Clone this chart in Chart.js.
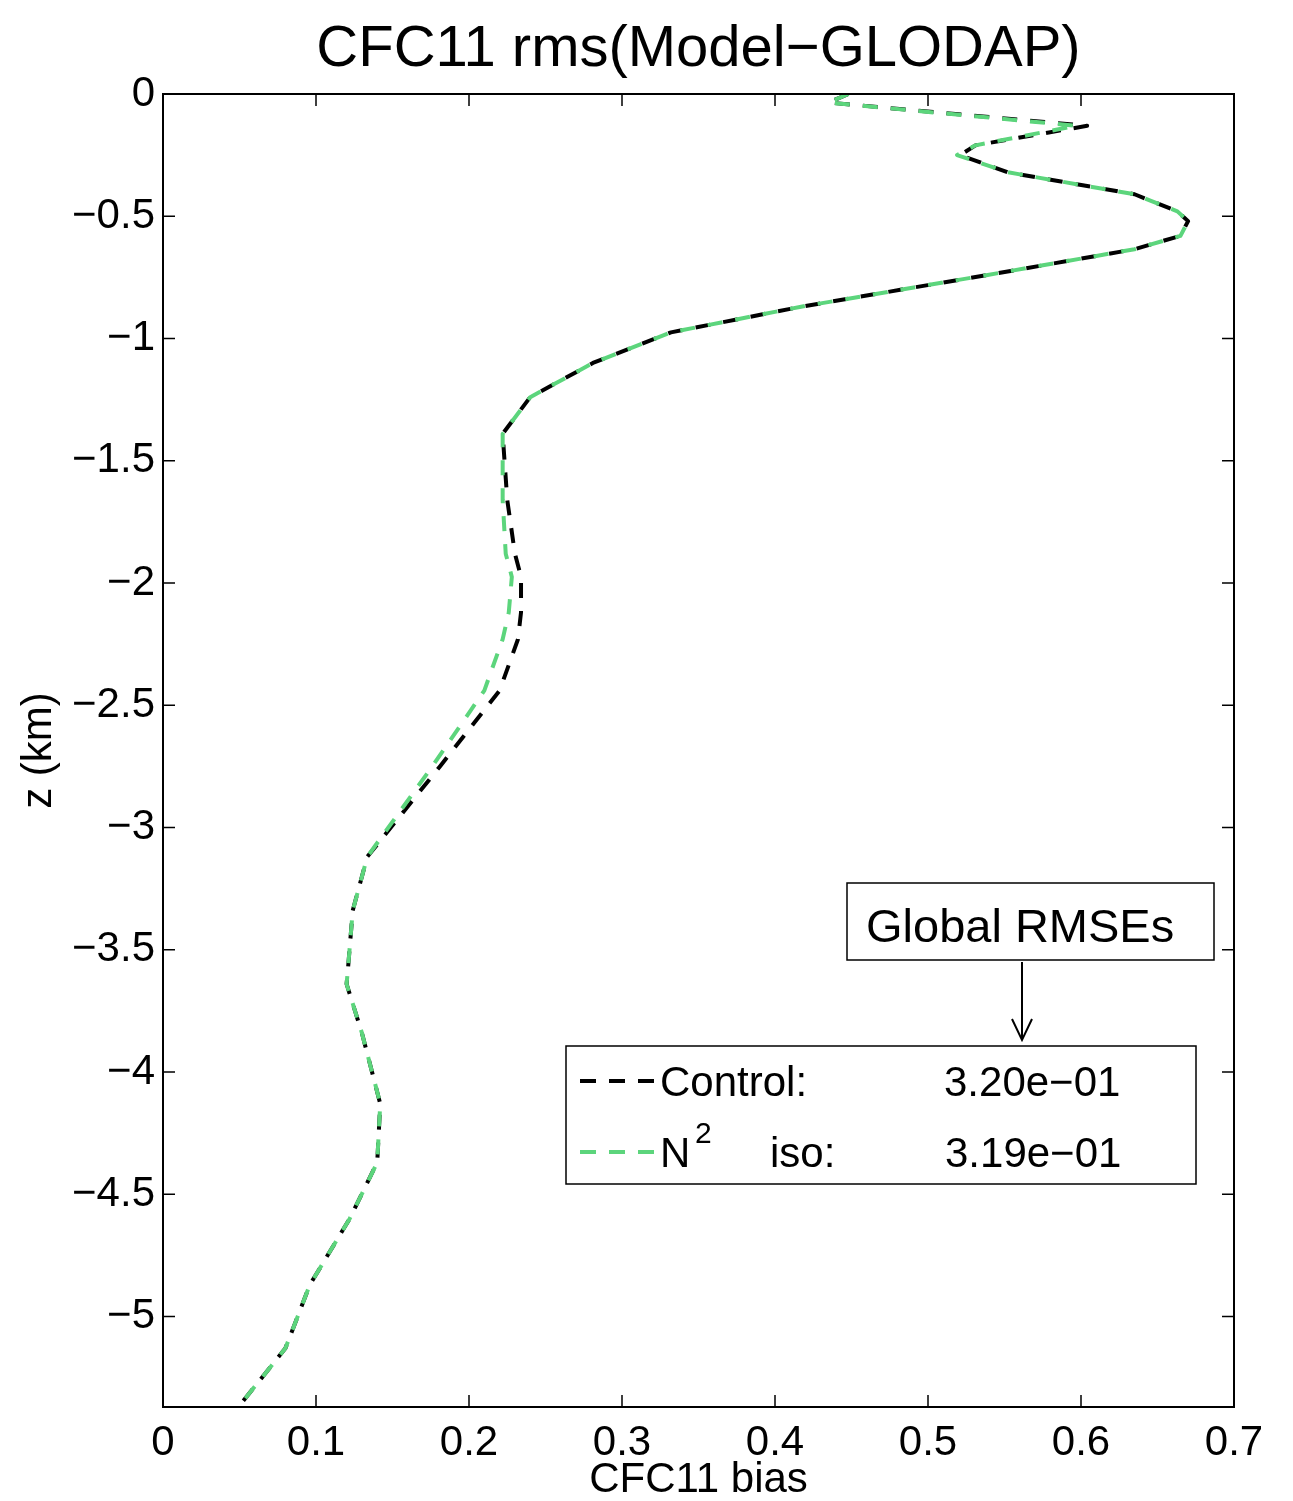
<!DOCTYPE html>
<html>
<head>
<meta charset="utf-8">
<title>CFC11 rms(Model−GLODAP)</title>
<script src="https://cdn.jsdelivr.net/npm/chart.js@4.4.0/dist/chart.umd.min.js"></script>
<style>
  body { margin: 0; background: #fff; }
  canvas { display: block; }
</style>
</head>
<body>
<canvas id="cfcChart" width="1293" height="1501"></canvas>
<script>
// depth of each model level (km, negative down)
const depthKm = [0, -0.035, -0.13, -0.21, -0.25, -0.32, -0.41, -0.48, -0.52, -0.58,
  -0.635, -0.74, -0.87, -0.975, -1.10, -1.24, -1.39, -1.66, -1.88, -1.975,
  -2.12, -2.23, -2.44, -2.75, -3.12, -3.34, -3.57, -3.64, -3.84, -4.13,
  -4.37, -4.60, -4.87, -5.13, -5.38];

// rms bias per level
const controlBias = [0.448, 0.435, 0.604, 0.531, 0.521, 0.552, 0.635, 0.663, 0.670, 0.665,
  0.635, 0.539, 0.417, 0.332, 0.281, 0.240, 0.222, 0.225, 0.230, 0.234,
  0.234, 0.232, 0.220, 0.181, 0.1335, 0.124, 0.121, 0.120, 0.130, 0.142,
  0.140, 0.122, 0.096, 0.080, 0.048];
const n2isoBias = [0.448, 0.435, 0.597, 0.531, 0.519, 0.552, 0.635, 0.663, 0.670, 0.665,
  0.635, 0.539, 0.417, 0.332, 0.281, 0.240, 0.222, 0.222, 0.224, 0.228,
  0.226, 0.222, 0.210, 0.176, 0.1335, 0.124, 0.121, 0.120, 0.130, 0.142,
  0.140, 0.122, 0.096, 0.080, 0.048];

// global RMSEs shown in the legend
const controlRmse = 0.320;
const n2isoRmse = 0.319;

const xTickValues = [0, 0.1, 0.2, 0.3, 0.4, 0.5, 0.6, 0.7];
const yTickValues = [0, -0.5, -1, -1.5, -2, -2.5, -3, -3.5, -4, -4.5, -5];

const FONT = "'Liberation Sans', Arial, Helvetica, sans-serif";
const GREEN = "#5cd57c";
const DASH = [15, 13];

function toPoints(values) {
  return values.map((v, i) => ({ x: v, y: depthKm[i] }));
}

function fmtTick(v) {
  if (Math.abs(v) < 1e-9) return "0";
  return String(+v.toFixed(1)).replace("-", "\u2212");
}

function fmtExp(v) {
  // matlab style 3.20e-01
  return v.toExponential(2).replace(/e([+-])(\d)$/, "e$10$2").replace("-", "\u2212");
}

//Frame, inward ticks, title, legend and annotation
const matlabAxes = {
  id: "matlabAxes",
  afterDraw(chart) {
    const ctx = chart.ctx;
    const { left, right, top, bottom } = chart.chartArea;
    const xs = chart.scales.x;
    const ys = chart.scales.y;
    const tick = 12;

    ctx.save();
    ctx.strokeStyle = "#000";
    ctx.lineWidth = 2;
    ctx.strokeRect(left, top, right - left, bottom - top);

    ctx.lineWidth = 1.5;
    ctx.beginPath();
    xTickValues.forEach((v) => {
      const px = xs.getPixelForValue(v);
      ctx.moveTo(px, bottom); ctx.lineTo(px, bottom - tick);
      ctx.moveTo(px, top); ctx.lineTo(px, top + tick);
    });
    yTickValues.forEach((v) => {
      const py = ys.getPixelForValue(v);
      ctx.moveTo(left, py); ctx.lineTo(left + tick, py);
      ctx.moveTo(right, py); ctx.lineTo(right - tick, py);
    });
    ctx.stroke();

    // title
    ctx.fillStyle = "#000";
    ctx.font = "58px " + FONT;
    ctx.textAlign = "center";
    ctx.textBaseline = "alphabetic";
    ctx.fillText("CFC11 rms(Model\u2212GLODAP)", (left + right) / 2, 66);

    // Global RMSEs box + arrow
    ctx.lineWidth = 1.5;
    ctx.strokeRect(847, 883, 367, 77);
    ctx.font = "47px " + FONT;
    ctx.textAlign = "left";
    ctx.fillText("Global RMSEs", 866, 942);
    ctx.lineWidth = 2;
    ctx.beginPath();
    ctx.moveTo(1022, 962); ctx.lineTo(1022, 1040);
    ctx.moveTo(1012, 1019); ctx.lineTo(1022, 1040); ctx.lineTo(1032, 1019);
    ctx.stroke();

    // legend box
    ctx.lineWidth = 1.5;
    ctx.fillStyle = "#fff";
    ctx.fillRect(566, 1046, 630, 138);
    ctx.strokeRect(566, 1046, 630, 138);

    ctx.lineWidth = 4;
    ctx.setLineDash([16, 13]);
    ctx.strokeStyle = "#000";
    ctx.beginPath(); ctx.moveTo(580, 1081); ctx.lineTo(656, 1081); ctx.stroke();
    ctx.strokeStyle = GREEN;
    ctx.beginPath(); ctx.moveTo(580, 1152); ctx.lineTo(656, 1152); ctx.stroke();
    ctx.setLineDash([]);

    ctx.fillStyle = "#000";
    ctx.font = "42px " + FONT;
    ctx.fillText("Control:", 660, 1096);
    ctx.fillText(fmtExp(controlRmse), 944, 1096);
    ctx.fillText("N", 660, 1167);
    ctx.fillText("iso:", 770, 1167);
    ctx.fillText(fmtExp(n2isoRmse), 945, 1167);
    ctx.font = "30px " + FONT;
    ctx.fillText("2", 695, 1143);
    ctx.restore();
  },
};

const cfcData = {
  datasets: [
    {
      label: "N2 iso",
      data: toPoints(n2isoBias),
      borderColor: GREEN,
      borderWidth: 4,
      borderDash: DASH,
      borderJoinStyle: "round",
      pointRadius: 0,
      showLine: true,
      tension: 0,
      order: 0,
    },
    {
      label: "Control",
      data: toPoints(controlBias),
      borderColor: "#000",
      borderWidth: 4,
      borderDash: DASH,
      borderJoinStyle: "round",
      pointRadius: 0,
      showLine: true,
      tension: 0,
      order: 1,
    },
  ],
};

const cfcConfig = {
  type: "scatter",
  data: cfcData,
  options: {
    responsive: false,
    animation: false,
    layout: { padding: { top: 94, right: 59, left: 0, bottom: 0 } },
    plugins: {
      legend: { display: false },
      title: { display: false },
      tooltip: { enabled: false },
    },
    scales: {
      x: {
        type: "linear",
        min: 0,
        max: 0.7,
        grid: { display: false, drawTicks: false },
        border: { display: false },
        afterBuildTicks: (scale) => { scale.ticks = xTickValues.map((v) => ({ value: v })); },
        afterFit: (scale) => { scale.height = 94; },
        ticks: {
          color: "#000",
          padding: 11,
          font: { family: FONT, size: 42 },
          callback: (v) => fmtTick(v),
        },
        title: {
          display: true,
          text: "CFC11 bias",
          color: "#000",
          font: { family: FONT, size: 42, lineHeight: 1 },
          padding: { top: -3, bottom: 0 },
        },
      },
      y: {
        type: "linear",
        min: -5.37,
        max: 0,
        grid: { display: false, drawTicks: false },
        border: { display: false },
        afterBuildTicks: (scale) => { scale.ticks = yTickValues.map((v) => ({ value: v })); },
        afterFit: (scale) => { scale.width = 163; },
        ticks: {
          color: "#000",
          padding: 8,
          font: { family: FONT, size: 42 },
          callback: (v) => fmtTick(v),
        },
        title: {
          display: true,
          text: "z (km)",
          color: "#000",
          font: { family: FONT, size: 42, lineHeight: 1 },
          padding: { top: 18, bottom: 0 },
        },
      },
    },
  },
  plugins: [matlabAxes],
};

const cfcChart = new Chart(document.getElementById("cfcChart"), cfcConfig);
console.log(cfcChart);
</script>
</body>
</html>
